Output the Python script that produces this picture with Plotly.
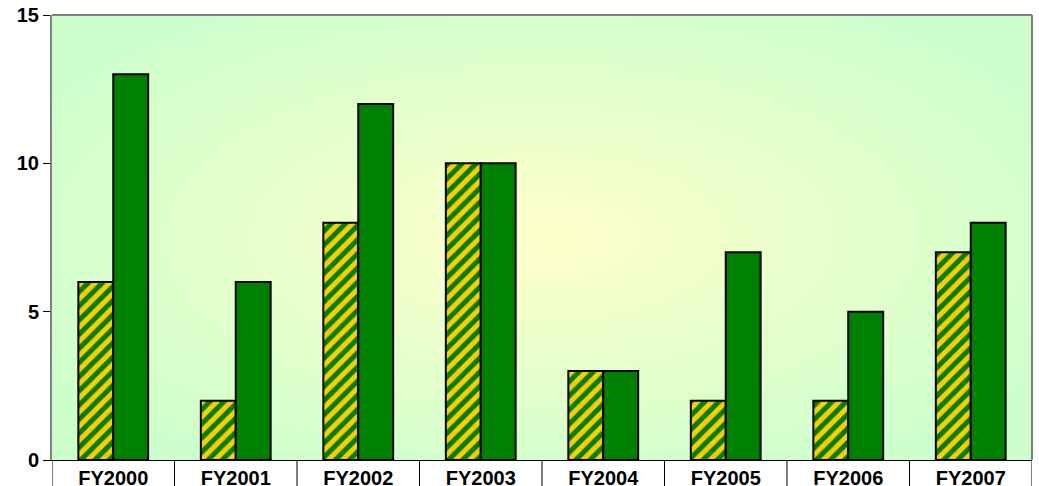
import base64
import plotly.graph_objects as go

categories = ["FY2000", "FY2001", "FY2002", "FY2003", "FY2004", "FY2005", "FY2006", "FY2007"]
series_a = [6, 2, 8, 10, 3, 2, 2, 7]
series_b = [13, 6, 12, 10, 3, 7, 5, 8]
y_ticks = [0, 5, 10, 15]

x = list(range(len(categories)))

svg = """<svg xmlns='http://www.w3.org/2000/svg' width='980' height='445' viewBox='0 0 980 445' preserveAspectRatio='none'>
<defs><radialGradient id='g' cx='50%' cy='50%' r='60%'>
<stop offset='0%' stop-color='#FFFFCC'/><stop offset='100%' stop-color='#CCFFCC'/>
</radialGradient></defs><rect width='980' height='445' fill='url(#g)'/></svg>"""
bg = "data:image/svg+xml;base64," + base64.b64encode(svg.encode()).decode()

fig = go.Figure()
fig.add_trace(go.Bar(
    x=x, y=series_a, name="Series A",
    marker=dict(color="#008000", line=dict(color="black", width=2),
                pattern=dict(shape="/", fgcolor="#FFCC00", bgcolor="#008000",
                             size=10, solidity=0.5, fgopacity=1)),
))
fig.add_trace(go.Bar(
    x=x, y=series_b, name="Series B",
    marker=dict(color="#008000", line=dict(color="black", width=2)),
))

shapes = []
for i in range(len(categories) + 1):
    shapes.append(dict(type="line", xref="x", yref="paper", x0=i - 0.5, x1=i - 0.5,
                       y0=0, y1=-0.1, line=dict(color="black", width=1)))

fig.update_layout(
    width=1039, height=486,
    margin=dict(l=52, r=7, t=15, b=26, autoexpand=False),
    paper_bgcolor="white",
    plot_bgcolor="rgba(0,0,0,0)",
    barmode="group", bargap=0.43, bargroupgap=0,
    showlegend=False,
    font=dict(family="Arial, Liberation Sans, sans-serif", color="black"),
    images=[dict(source=bg, xref="paper", yref="paper", x=0, y=1, sizex=1, sizey=1,
                 sizing="stretch", layer="below")],
    shapes=shapes,
    xaxis=dict(range=[-0.5, len(categories) - 0.5], tickvals=x, ticktext=["<b>%s</b>" % c for c in categories],
               showgrid=False, zeroline=False, showline=True, linecolor="black", linewidth=1,
               ticks="", tickfont=dict(size=20), automargin=False, ticklabelstandoff=0),
    yaxis=dict(range=[0, 15], tickvals=y_ticks, ticktext=["<b>%d</b>" % v for v in y_ticks],
               showgrid=False, zeroline=False, showline=True, linecolor="#808080", linewidth=2,
               ticks="outside", ticklen=7, tickcolor="black", tickfont=dict(size=20), automargin=False),
)
fig.add_shape(type="line", xref="paper", yref="paper", x0=0, x1=1, y0=1, y1=1,
              line=dict(color="#808080", width=2))
fig.add_shape(type="line", xref="paper", yref="paper", x0=1, x1=1, y0=0, y1=1,
              line=dict(color="#808080", width=2))

fig.write_html("out.html", config={"displayModeBar": False},
               post_script="document.body.style.margin='0';document.body.style.overflow='hidden';")
